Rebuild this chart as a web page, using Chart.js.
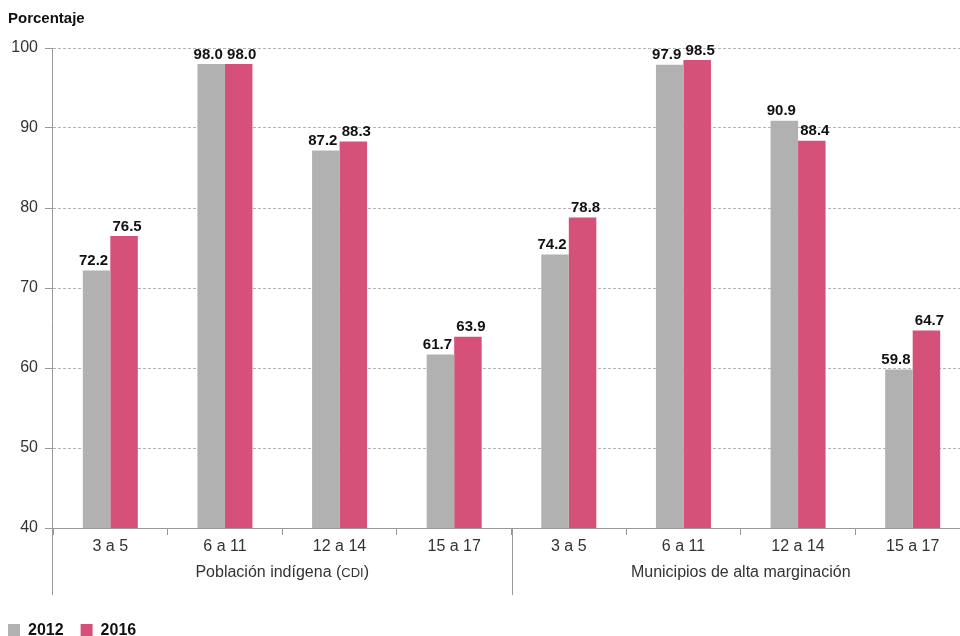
<!DOCTYPE html>
<html><head><meta charset="utf-8">
<script src="https://cdn.jsdelivr.net/npm/chart.js@4.4.1/dist/chart.umd.min.js"></script>
<style>html,body{margin:0;padding:0;background:#fff;overflow:hidden}#wrap{width:960px;height:636px;position:relative;overflow:hidden}canvas{display:block}</style>
</head><body><div id="wrap"><canvas id="c" width="970" height="636"></canvas></div>
<script>
const ageGroups = ['3 a 5','6 a 11','12 a 14','15 a 17'];
const populations = ['Población indígena (CDI)','Municipios de alta marginación'];
const seriesNames = ['2012','2016'];
const values2012 = [72.2,98.0,87.2,61.7,74.2,97.9,90.9,59.8];
const values2016 = [76.5,98.0,88.3,63.9,78.8,98.5,88.4,64.7];
const yTicks = [40,50,60,70,80,90,100];
const yTitle = 'Porcentaje';
const colors = ['#b1b1b1','#d6517a'];
const FONT = '"Liberation Sans", Arial, Helvetica, sans-serif';
const AXIS = '#9a9a9a';

const labels = [];
populations.forEach(() => ageGroups.forEach(a => labels.push(a)));

const extras = {
  id: 'extras',
  afterDraw(chart) {
    const ctx = chart.ctx, ca = chart.chartArea;
    const x = chart.scales.x;
    ctx.save();
    // value labels
    ctx.font = 'bold 15px ' + FONT;
    ctx.fillStyle = '#111';
    ctx.textAlign = 'center';
    ctx.textBaseline = 'bottom';
    const shift = [-3, 3];
    chart.data.datasets.forEach((ds, di) => {
      chart.getDatasetMeta(di).data.forEach((bar, i) => {
        ctx.fillText(ds.data[i].toFixed(1), bar.x + shift[di], bar.y - 2);
      });
    });
    // y axis line and group separators
    ctx.strokeStyle = AXIS; ctx.lineWidth = 1;
    const bottomY = 595;
    const lines = [Math.round(ca.left) - 0.5];
    const per = ageGroups.length;
    for (let g = 1; g < populations.length; g++) {
      const b = (x.getPixelForValue(g * per - 1) + x.getPixelForValue(g * per)) / 2;
      lines.push(Math.round(b) + 0.5);
    }
    lines.forEach((lx, k) => {
      ctx.beginPath();
      ctx.moveTo(lx, k === 0 ? ca.top : ca.bottom);
      ctx.lineTo(lx, bottomY);
      ctx.stroke();
    });
    // group labels
    ctx.fillStyle = '#333';
    ctx.textBaseline = 'middle';
    ctx.textAlign = 'left';
    populations.forEach((p, g) => {
      const cx = (x.getPixelForValue(g * per) + x.getPixelForValue(g * per + per - 1)) / 2;
      const m = p.match(/^(.*\()([A-Z]+)(\).*)$/);
      const parts = m ? [[m[1], 16], [m[2], 13], [m[3], 16]] : [[p, 16]];
      let w = 0;
      parts.forEach(([t, s]) => { ctx.font = s + 'px ' + FONT; w += ctx.measureText(t).width; });
      let px = cx - w / 2;
      parts.forEach(([t, s]) => { ctx.font = s + 'px ' + FONT; ctx.fillText(t, px, 573); px += ctx.measureText(t).width; });
    });
    // legend
    let lx = 8;
    ctx.font = 'bold 16px ' + FONT;
    ctx.textBaseline = 'middle';
    chart.data.datasets.forEach((ds, di) => {
      ctx.fillStyle = ds.backgroundColor;
      ctx.fillRect(lx, 624, 12, 12);
      ctx.fillStyle = '#111';
      ctx.fillText(ds.label, lx + 20, 630.5);
      lx += 20 + ctx.measureText(ds.label).width + 17;
    });
    ctx.restore();
  }
};

new Chart(document.getElementById('c'), {
  type: 'bar',
  data: {
    labels: labels,
    datasets: [
      { label: seriesNames[0], data: values2012, backgroundColor: colors[0] },
      { label: seriesNames[1], data: values2016, backgroundColor: colors[1] }
    ]
  },
  options: {
    responsive: false,
    devicePixelRatio: 1,
    animation: false,
    layout: { padding: { left: 8, right: 0, top: 0, bottom: 0 } },
    datasets: { bar: { categoryPercentage: 0.48, barPercentage: 1 } },
    plugins: {
      legend: { display: false },
      tooltip: { enabled: false },
      title: {
        display: true, text: yTitle, align: 'start', color: '#111',
        font: { family: FONT, size: 15, weight: 'bold' },
        padding: { top: 10, bottom: 20 }
      }
    },
    scales: {
      x: {
        afterFit(s) { s.height = 108; },
        grid: { drawOnChartArea: false, color: AXIS, tickLength: 7, offset: true },
        border: { color: AXIS },
        ticks: { color: '#333', font: { family: FONT, size: 16 }, padding: 2, maxRotation: 0, autoSkip: false }
      },
      y: {
        min: yTicks[0], max: yTicks[yTicks.length - 1],
        afterFit(s) { s.width = 45; },
        afterBuildTicks(s) { s.ticks = yTicks.map(v => ({ value: v })); },
        grid: { color: '#b4b4b4', tickColor: AXIS, tickLength: 8, tickBorderDash: [] },
        border: { display: false, dash: [3, 2] },
        ticks: { color: '#333', font: { family: FONT, size: 16 }, padding: 7 }
      }
    }
  },
  plugins: [extras]
});
</script></body></html>
